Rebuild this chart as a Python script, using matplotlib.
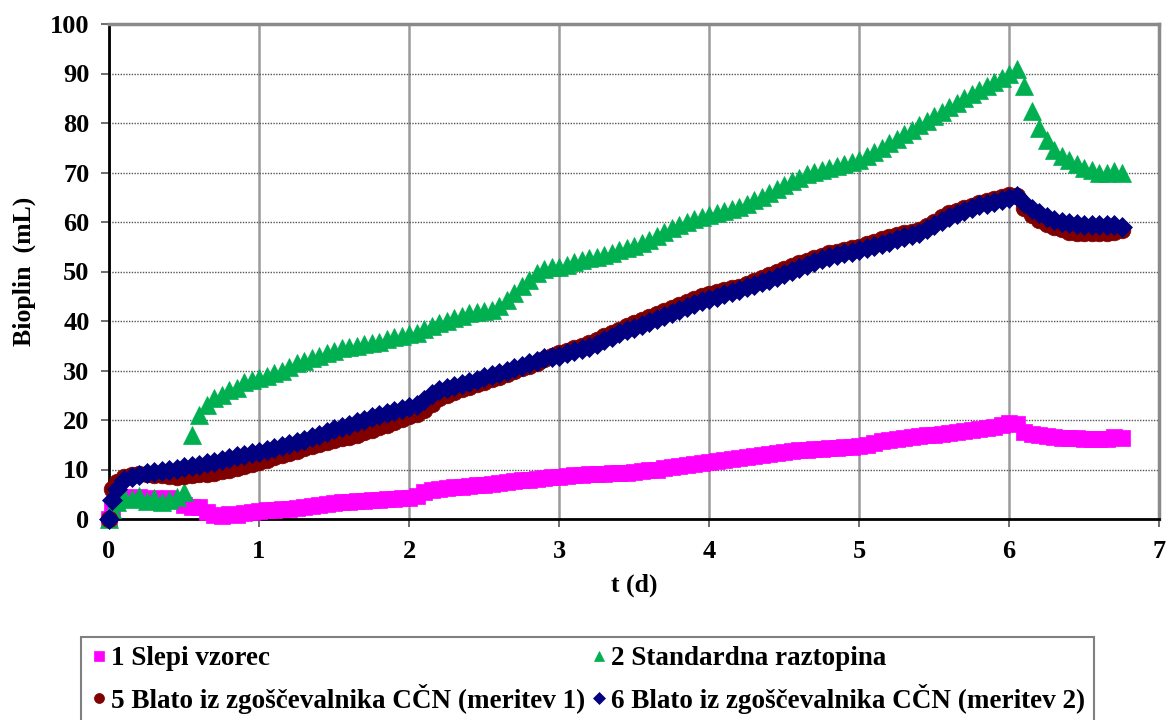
import matplotlib
matplotlib.use("Agg")
import matplotlib.pyplot as plt

t_days = [
    0, 0.02, 0.05, 0.10, 0.15, 0.20, 0.25, 0.30, 0.35, 0.40,
    0.45, 0.50, 0.55, 0.60, 0.65, 0.70, 0.75, 0.80, 0.85, 0.90,
    0.95, 1.00, 1.05, 1.10, 1.15, 1.20, 1.25, 1.30, 1.35, 1.40,
    1.45, 1.50, 1.55, 1.60, 1.65, 1.70, 1.75, 1.80, 1.85, 1.90,
    1.95, 2.00, 2.05, 2.10, 2.15, 2.20, 2.25, 2.30, 2.35, 2.40,
    2.45, 2.50, 2.55, 2.60, 2.65, 2.70, 2.75, 2.80, 2.85, 2.90,
    2.95, 3.00, 3.05, 3.10, 3.15, 3.20, 3.25, 3.30, 3.35, 3.40,
    3.45, 3.50, 3.55, 3.60, 3.65, 3.70, 3.75, 3.80, 3.85, 3.90,
    3.95, 4.00, 4.05, 4.10, 4.15, 4.20, 4.25, 4.30, 4.35, 4.40,
    4.45, 4.50, 4.55, 4.60, 4.65, 4.70, 4.75, 4.80, 4.85, 4.90,
    4.95, 5.00, 5.05, 5.10, 5.15, 5.20, 5.25, 5.30, 5.35, 5.40,
    5.45, 5.50, 5.55, 5.60, 5.65, 5.70, 5.75, 5.80, 5.85, 5.90,
    5.95, 6.00, 6.05, 6.10, 6.15, 6.20, 6.25, 6.30, 6.35, 6.40,
    6.45, 6.50, 6.55, 6.60, 6.65, 6.70, 6.75,
]

slepi_vzorec = [
    0, 2, 4, 4.5, 4.2, 4.5, 4.0, 4.3, 4.0, 4.2,
    3.8, 2.8, 2.5, 2.5, 1.5, 0.8, 0.6, 1.0, 0.8, 1.2,
    1.4, 1.6, 1.8, 1.8, 2.0, 2.1, 2.2, 2.4, 2.6, 2.8,
    3.0, 3.2, 3.4, 3.4, 3.6, 3.6, 3.8, 3.9, 4.0, 4.1,
    4.2, 4.3, 4.6, 5.5, 5.8, 6.0, 6.2, 6.4, 6.5, 6.6,
    6.8, 6.9, 7.0, 7.2, 7.4, 7.6, 7.8, 7.9, 8.1, 8.3,
    8.4, 8.5, 8.6, 8.8, 8.9, 9.0, 9.0, 9.1, 9.2, 9.2,
    9.3, 9.4, 9.6, 9.8, 10.0, 10.3, 10.6, 10.8, 11.0, 11.2,
    11.4, 11.6, 11.8, 12.0, 12.2, 12.4, 12.6, 12.8, 13.0, 13.2,
    13.4, 13.5, 13.7, 13.9, 14.0, 14.1, 14.2, 14.3, 14.4, 14.5,
    14.6, 14.7, 15.0, 15.4, 15.8, 16.0, 16.2, 16.3, 16.5, 16.7,
    16.9, 17.0, 17.2, 17.4, 17.6, 17.8, 18.0, 18.2, 18.4, 18.6,
    19.0, 19.4, 19.2, 17.6, 17.2, 17.0, 16.8, 16.6, 16.4, 16.3,
    16.3, 16.2, 16.2, 16.2, 16.2, 16.5, 16.3,
]

standardna_raztopina = [
    0, 2, 3.5, 4.5, 4.0, 4.6, 3.6, 4.2, 3.4, 3.8,
    4.5, 5.5, 17.0, 21.0, 23.0, 24.4, 25.0, 26.0, 26.5, 27.7,
    28.0, 28.4, 28.8, 29.5, 30.0, 30.7, 31.5, 32.0, 32.5, 33.0,
    33.5, 34.0, 34.5, 34.8, 35.0, 35.3, 35.5, 35.8, 36.3, 36.7,
    37.0, 37.3, 37.6, 38.3, 39.0, 39.6, 40.0, 40.6, 41.0, 41.6,
    41.8, 42.0, 42.3, 43.0, 44.2, 45.6, 47.0, 48.2, 49.6, 50.6,
    51.0, 51.0, 51.4, 52.0, 52.4, 52.7, 53.0, 53.4, 53.8, 54.4,
    54.8, 55.2, 55.8, 56.4, 57.2, 58.0, 58.8, 59.4, 60.0, 60.6,
    61.0, 61.4, 61.8, 62.2, 62.6, 63.0, 63.6, 64.4, 65.0, 65.8,
    66.6, 67.4, 68.2, 68.9, 69.6, 70.2, 70.6, 71.0, 71.4, 71.8,
    72.2, 72.5, 73.4, 74.2, 75.0, 76.0, 76.8, 77.8, 78.6, 79.6,
    80.4, 81.4, 82.2, 83.2, 84.0, 85.0, 85.8, 86.7, 87.4, 88.2,
    89.0, 90.0, 91.0, 87.5, 82.5, 79.0, 76.5, 74.5, 73.3, 72.5,
    71.7, 71.0, 70.5, 70.0, 70.0, 70.3, 70.0,
]

blato_meritev1 = [
    0, 6.0, 7.5, 8.5, 8.8, 9.0, 9.0, 8.8, 8.8, 8.6,
    8.5, 8.6, 8.8, 9.0, 9.1, 9.2, 9.6, 10.0, 10.4, 10.8,
    11.2, 11.5, 12.0, 12.5, 13.0, 13.4, 13.8, 14.3, 14.7, 15.1,
    15.5, 15.9, 16.3, 16.6, 17.0, 17.5, 18.0, 18.5, 19.0, 19.6,
    20.2, 20.8, 21.2, 22.0, 23.2, 24.4, 25.0, 25.6, 26.2, 26.7,
    27.2, 27.7, 28.2, 28.7, 29.3, 29.9, 30.5, 31.0, 31.6, 32.3,
    33.0, 33.5, 34.0, 34.5, 35.0, 35.5, 36.2, 36.9, 37.5, 38.2,
    38.9, 39.5, 40.2, 40.8, 41.4, 42.0, 42.6, 43.2, 43.8, 44.4,
    45.0, 45.4, 45.8, 46.2, 46.6, 46.9, 47.5, 48.1, 48.7, 49.3,
    49.9, 50.5, 51.1, 51.7, 52.2, 52.7, 53.2, 53.7, 54.0, 54.4,
    54.7, 55.0, 55.5, 56.0, 56.5, 57.0, 57.3, 57.7, 58.0, 58.4,
    59.2, 60.0, 61.0, 61.8, 62.3, 62.8, 63.3, 63.8, 64.2, 64.6,
    65.0, 65.4, 65.3, 62.8, 61.5, 60.4, 59.6, 59.0, 58.5, 58.0,
    57.8, 57.8, 57.7, 57.8, 57.8, 58.0, 58.4,
]

blato_meritev2 = [
    0, 3.8, 6.0, 7.9, 8.5, 8.9, 9.2, 9.5, 9.7, 10.0,
    10.2, 10.5, 10.8, 11.0, 11.3, 11.5, 11.9, 12.3, 12.7, 13.0,
    13.3, 13.5, 13.9, 14.3, 14.8, 15.2, 15.6, 16.0, 16.5, 17.0,
    17.6, 18.1, 18.6, 19.0, 19.5, 20.0, 20.6, 21.1, 21.5, 21.9,
    22.3, 22.6, 23.0, 24.0, 25.2, 26.0, 26.4, 26.9, 27.3, 27.7,
    28.1, 28.6, 29.0, 29.5, 30.0, 30.5, 31.0, 31.5, 32.0, 32.5,
    32.8, 33.0, 33.5, 34.0, 34.4, 34.8, 35.4, 36.1, 36.8, 37.5,
    38.1, 38.6, 39.2, 39.8, 40.4, 41.0, 41.6, 42.2, 42.8, 43.4,
    44.0, 44.4, 44.9, 45.4, 45.9, 46.3, 46.8, 47.3, 47.8, 48.3,
    48.9, 49.5, 50.1, 50.7, 51.3, 51.9, 52.5, 53.0, 53.4, 53.7,
    54.0, 54.3, 54.7, 55.2, 55.6, 56.0, 56.5, 57.0, 57.4, 57.8,
    58.6, 59.4, 60.2, 61.0, 61.6, 62.2, 62.8, 63.4, 63.7, 64.0,
    64.4, 64.8, 65.3, 63.8, 62.6, 61.8, 61.0, 60.4, 60.0, 59.8,
    59.5, 59.4, 59.3, 59.4, 59.3, 59.4, 59.0,
]

labels = [
    "1 Slepi vzorec",
    "2 Standardna raztopina",
    "5 Blato iz zgoščevalnika CČN (meritev 1)",
    "6 Blato iz zgoščevalnika CČN (meritev 2)",
]
x_ticks = [0, 1, 2, 3, 4, 5, 6, 7]
y_ticks = [0, 10, 20, 30, 40, 50, 60, 70, 80, 90, 100]

plt.rcParams['font.family'] = ['Liberation Serif', 'DejaVu Serif']
plt.rcParams['font.weight'] = 'bold'

W, H = 1168, 720
fig = plt.figure(figsize=(W / 100, H / 100), dpi=100)
ax = fig.add_axes([109 / W, 1 - 519 / H, 1050 / W, 495 / H])

series = [
    (slepi_vzorec, 's', 11.5, '#FF00FF'),
    (standardna_raztopina, '^', 13.0, '#00B050'),
    (blato_meritev1, 'o', 12.0, '#800000'),
    (blato_meritev2, 'D', 10.5, '#000080'),
]
handles = []
for (vals, mk, ms, col), lab in zip(series, labels):
    h, = ax.plot(t_days, vals, linestyle='none', marker=mk, markersize=ms,
                 color=col, markeredgecolor=col, markeredgewidth=0.5,
                 clip_on=False, label=lab, zorder=3)
    handles.append(h)

ax.set_xlim(0, 7)
ax.set_ylim(0, 100)
ax.set_xticks(x_ticks)
ax.set_yticks(y_ticks)
ax.set_axisbelow(True)
ax.xaxis.grid(True, color='#9a9a9a', linewidth=1.8, linestyle='-')
ax.yaxis.grid(True, color='#555555', linewidth=1.0, linestyle=(0, (1, 1)))

for s in ['left', 'bottom']:
    ax.spines[s].set_color('black')
    ax.spines[s].set_linewidth(2.0)
for s in ['top', 'right']:
    ax.spines[s].set_color('#8a8a8a')
    ax.spines[s].set_linewidth(2.5)

ax.tick_params(axis='both', direction='out', length=6, width=1.2,
               color='#555555', labelsize=19)
ax.tick_params(axis='x', pad=9)
ax.tick_params(axis='y', pad=8)
for lbl in ax.get_xticklabels() + ax.get_yticklabels():
    lbl.set_fontweight('bold')

ax.set_xlabel('t (d)', fontsize=18.5, fontweight='bold', labelpad=8)
ax.set_ylabel('Bioplin  (mL)', fontsize=18.5, fontweight='bold', labelpad=10)

order = [0, 2, 1, 3]
leg = fig.legend([handles[i] for i in order], [labels[i] for i in order],
                 ncol=2, loc='upper left',
                 bbox_to_anchor=(81 / W, 1 - 637 / H),
                 bbox_transform=fig.transFigure,
                 prop={'family': 'Liberation Serif', 'weight': 'bold', 'size': 19.5},
                 frameon=True, fancybox=False, edgecolor='#808080',
                 framealpha=1, borderpad=0.35, handlelength=0.6,
                 handletextpad=0.15, columnspacing=0.2, labelspacing=0.45,
                 markerscale=0.6, borderaxespad=0)
leg.get_frame().set_linewidth(1.5)

fig.savefig('out.png', dpi=100)
